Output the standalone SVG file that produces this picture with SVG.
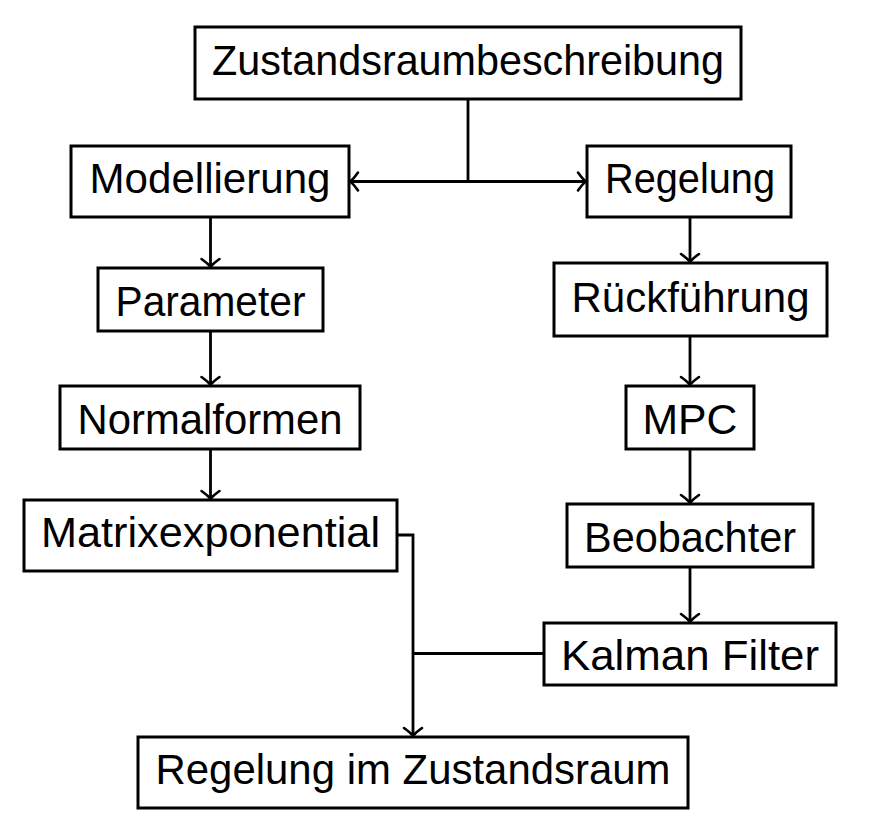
<svg xmlns="http://www.w3.org/2000/svg" width="875" height="838" viewBox="0 0 875 838">
<defs>
<style>
.box{fill:#fff;stroke:#000;stroke-width:3}
.lbl{font-family:"Liberation Sans",Arial,sans-serif;font-size:43px;fill:#000;text-anchor:middle}
.con{fill:none;stroke:#000;stroke-width:2.8}
</style>
<marker id="arr" markerUnits="userSpaceOnUse" markerWidth="24" markerHeight="24" viewBox="-12 -12 24 24" refX="0" refY="0" orient="auto">
<path d="M-8,-9 Q-3,-2 0,0 Q-3,2 -8,9" fill="none" stroke="#000" stroke-width="2.6" stroke-linecap="round"/>
</marker>
</defs>
<rect width="875" height="838" fill="#fff"/>
<g id="connectors">
<path class="con" d="M468,99 V181.5"/>
<path class="con" d="M468,181.5 H350" marker-end="url(#arr)"/>
<path class="con" d="M468,181.5 H586" marker-end="url(#arr)"/>
<path class="con" d="M210.5,217 V267" marker-end="url(#arr)"/>
<path class="con" d="M210.5,331 V385" marker-end="url(#arr)"/>
<path class="con" d="M210.5,449 V499" marker-end="url(#arr)"/>
<path class="con" d="M690,217 V262" marker-end="url(#arr)"/>
<path class="con" d="M690,336 V385" marker-end="url(#arr)"/>
<path class="con" d="M690,449 V503" marker-end="url(#arr)"/>
<path class="con" d="M690,567 V622" marker-end="url(#arr)"/>
<path class="con" d="M397,535 H413 V736" marker-end="url(#arr)"/>
<path class="con" d="M544,653.5 H413"/>
</g>
<g id="zustandsraumbeschreibung">
<rect class="box" x="195" y="27" width="546" height="72"/>
<text class="lbl" x="468" y="75" textLength="512" lengthAdjust="spacingAndGlyphs">Zustandsraumbeschreibung</text>
</g>
<g id="modellierung">
<rect class="box" x="71" y="146" width="278" height="71"/>
<text class="lbl" x="210" y="193" textLength="241" lengthAdjust="spacingAndGlyphs">Modellierung</text>
</g>
<g id="regelung">
<rect class="box" x="587" y="146" width="204" height="71"/>
<text class="lbl" x="690" y="193" textLength="170" lengthAdjust="spacingAndGlyphs">Regelung</text>
</g>
<g id="parameter">
<rect class="box" x="98" y="268" width="225" height="63"/>
<text class="lbl" x="210.5" y="316" textLength="190" lengthAdjust="spacingAndGlyphs">Parameter</text>
</g>
<g id="rueckfuehrung">
<rect class="box" x="554" y="263" width="273" height="73"/>
<text class="lbl" x="690.5" y="312" textLength="238" lengthAdjust="spacingAndGlyphs">Rückführung</text>
</g>
<g id="normalformen">
<rect class="box" x="60" y="386" width="300" height="63"/>
<text class="lbl" x="210" y="434" textLength="265" lengthAdjust="spacingAndGlyphs">Normalformen</text>
</g>
<g id="mpc">
<rect class="box" x="626" y="386" width="128" height="63"/>
<text class="lbl" x="690" y="434" textLength="95" lengthAdjust="spacingAndGlyphs">MPC</text>
</g>
<g id="matrixexponential">
<rect class="box" x="24" y="500" width="373" height="71"/>
<text class="lbl" x="210.5" y="547" textLength="339" lengthAdjust="spacingAndGlyphs">Matrixexponential</text>
</g>
<g id="beobachter">
<rect class="box" x="567" y="504" width="246" height="63"/>
<text class="lbl" x="690" y="552" textLength="212" lengthAdjust="spacingAndGlyphs">Beobachter</text>
</g>
<g id="kalman-filter">
<rect class="box" x="544" y="623" width="292" height="62"/>
<text class="lbl" x="690" y="670" textLength="258" lengthAdjust="spacingAndGlyphs">Kalman Filter</text>
</g>
<g id="regelung-im-zustandsraum">
<rect class="box" x="138" y="737" width="550" height="71"/>
<text class="lbl" x="413" y="784" textLength="515" lengthAdjust="spacingAndGlyphs">Regelung im Zustandsraum</text>
</g>
</svg>
